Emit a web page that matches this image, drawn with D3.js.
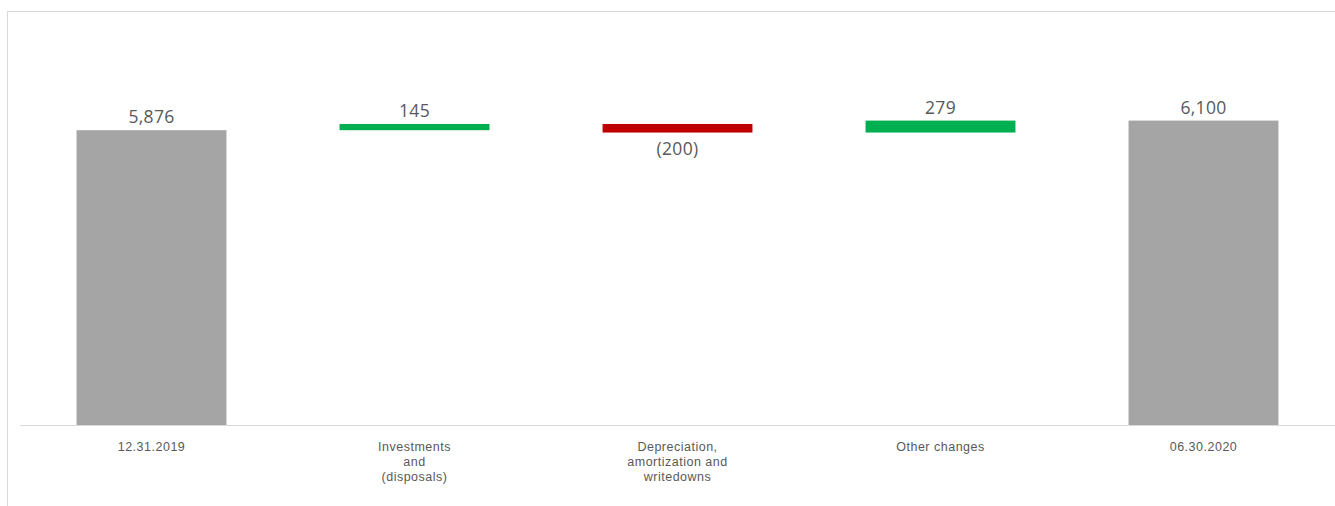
<!DOCTYPE html>
<html>
<head>
<meta charset="utf-8">
<script src="https://cdn.jsdelivr.net/npm/d3@7"></script>
<style>
  body { margin: 0; background: #fff; }
  svg { display: block; }
</style>
</head>
<body>
<div id="plot"></div>
<script>
// waterfall data
var categories = ["12.31.2019", "Investments\nand\n(disposals)", "Depreciation,\namortization and\nwritedowns", "Other changes", "06.30.2020"];
var values = [5876, 145, -200, 279, 6100];
var kinds = ["total", "delta", "delta", "delta", "total"];
var valueLabels = ["5,876", "145", "(200)", "279", "6,100"];
var axisDomain = [-1000, 7000];

var svgWidth = 1335, svgHeight = 506;
var margin = {top: 82, right: 0, bottom: 81, left: 20};

var svg = d3.select("#plot")
  .append("svg")
  .attr("width", svgWidth)
  .attr("height", svgHeight);

// chart frame
svg.append("rect")
  .attr("x", 7.5)
  .attr("y", 11.5)
  .attr("width", svgWidth + 20)
  .attr("height", svgHeight + 20)
  .style("fill", "none")
  .style("stroke", "#d9d9d9");

// running totals for the floating bars
var rows = [];
var running = 0;
for (var i = 0; i < categories.length; i++) {
  var start, end;
  if (kinds[i] == "total") {
    start = axisDomain[0];
    end = values[i];
    running = values[i];
  } else {
    start = running;
    end = running + values[i];
    running = end;
  }
  rows.push({cat: categories[i], value: values[i], kind: kinds[i], start: start, end: end, label: valueLabels[i]});
}

var x = d3.scaleBand()
  .domain(categories)
  .range([margin.left, svgWidth - margin.right])
  .paddingInner(0.43)
  .paddingOuter(0.215);

var y = d3.scaleLinear()
  .domain(axisDomain)
  .range([svgHeight - margin.bottom, margin.top]);

function barColor(d) {
  if (d.kind == "total") return "#a5a5a5";
  return d.value >= 0 ? "#00b050" : "#c00000";
}

svg.selectAll(".bar")
  .data(rows)
  .join("rect")
  .attr("class", "bar")
  .attr("x", d => x(d.cat))
  .attr("width", x.bandwidth())
  .attr("y", d => y(Math.max(d.start, d.end)))
  .attr("height", d => Math.abs(y(d.start) - y(d.end)))
  .style("fill", barColor);

// category axis line
svg.append("line")
  .attr("x1", margin.left)
  .attr("x2", svgWidth)
  .attr("y1", y(axisDomain[0]) + 0.5)
  .attr("y2", y(axisDomain[0]) + 0.5)
  .style("stroke", "#d9d9d9")
  .style("stroke-width", 1);

// value labels
svg.selectAll(".vlabel")
  .data(rows)
  .join("text")
  .attr("class", "vlabel")
  .attr("x", d => x(d.cat) + x.bandwidth() / 2)
  .attr("y", function(d) {
    if (d.kind == "delta" && d.value < 0) return y(Math.min(d.start, d.end)) + 22;
    return y(Math.max(d.start, d.end)) - 7;
  })
  .attr("text-anchor", "middle")
  .style("font-family", "'Open Sans', sans-serif")
  .style("font-size", "17.5px")
  .style("letter-spacing", "0.3px")
  .style("fill", "#595959")
  .text(d => d.label);

// category labels (multi-line)
var catText = svg.selectAll(".clabel")
  .data(rows)
  .join("text")
  .attr("class", "clabel")
  .attr("text-anchor", "middle")
  .style("font-family", "'Liberation Sans', Arial, sans-serif")
  .style("font-size", "12.5px")
  .style("letter-spacing", "0.5px")
  .style("fill", "#595959");

catText.each(function(d) {
  var lines = d.cat.split("\n");
  var cx = x(d.cat) + x.bandwidth() / 2;
  d3.select(this).selectAll("tspan")
    .data(lines)
    .join("tspan")
    .attr("x", cx)
    .attr("y", (l, k) => 450.5 + k * 15)
    .text(l => l);
});
</script>
</body>
</html>
